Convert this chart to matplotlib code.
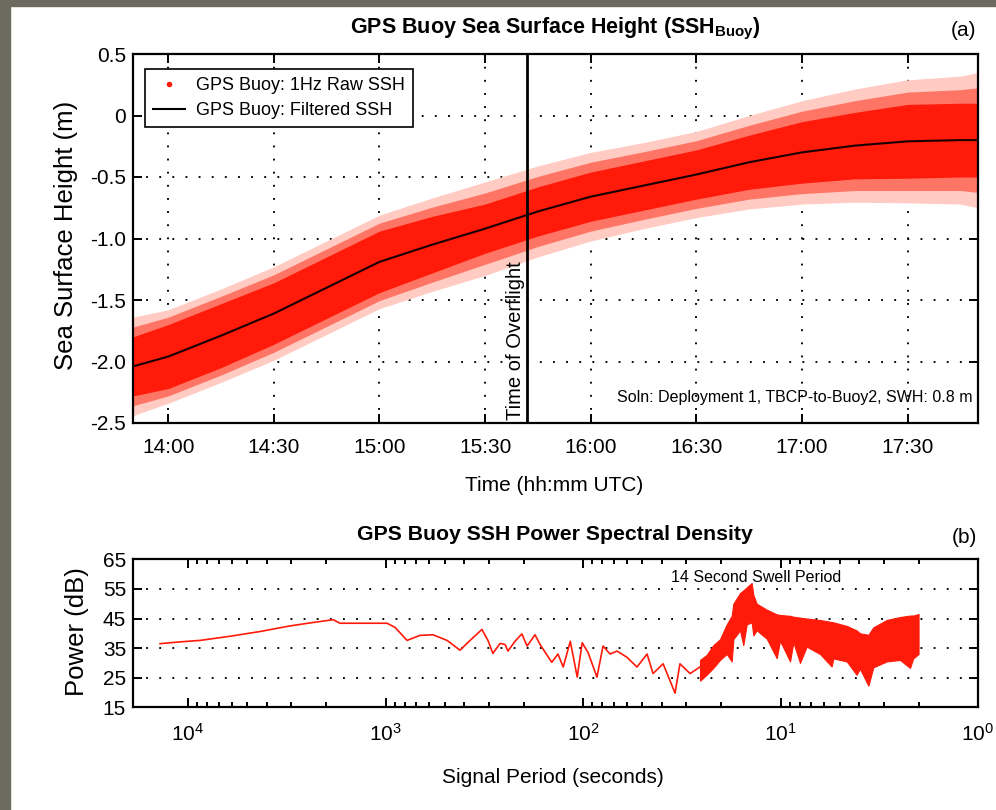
import matplotlib.pyplot as plt
import matplotlib.ticker as mticker
from matplotlib.lines import Line2D
from matplotlib.patches import Rectangle
import numpy as np

plt.rcParams['font.family'] = ['Liberation Sans', 'DejaVu Sans']
plt.rcParams['mathtext.fontset'] = 'custom'
plt.rcParams['mathtext.rm'] = 'Liberation Sans'
plt.rcParams['mathtext.it'] = 'Liberation Sans:italic'
plt.rcParams['mathtext.bf'] = 'Liberation Sans:bold'

# ---- (a) buoy sea surface height ----
clock = ["13:50", "14:00", "14:15", "14:30", "14:45", "15:00", "15:15",
         "15:30", "15:45", "16:00", "16:15", "16:30", "16:45", "17:00",
         "17:15", "17:30", "17:45", "17:50"]
ssh_filtered = [-2.04, -1.96, -1.79, -1.61, -1.40, -1.19, -1.05, -0.92, -0.78,
                -0.66, -0.57, -0.48, -0.38, -0.30, -0.245, -0.21, -0.20, -0.20]
# half width of the 1 Hz point cloud around the filtered curve (m)
raw_core = [0.24, 0.26, 0.26, 0.25, 0.25, 0.25, 0.23, 0.20, 0.20,
            0.20, 0.20, 0.20, 0.22, 0.25, 0.27, 0.30, 0.30, 0.30]
raw_outer = [0.40, 0.38, 0.38, 0.38, 0.38, 0.38, 0.38, 0.38, 0.37,
             0.36, 0.35, 0.35, 0.38, 0.42, 0.46, 0.50, 0.52, 0.55]
overflight = "15:42"
time_ticks = ["14:00", "14:30", "15:00", "15:30", "16:00", "16:30", "17:00", "17:30"]
ssh_ticks = [0.5, 0, -0.5, -1.0, -1.5, -2.0, -2.5]

# ---- (b) power spectral density ----
psd_period = [13860, 10980, 8696, 6130, 4320, 3045, 2412, 1844, 1700, 983,
              895, 778, 669, 575, 488, 420, 373, 325, 303, 286, 263, 248,
              240, 221, 204, 192, 175, 165, 144, 134, 126, 116, 107, 101,
              94.3, 85.0, 79.2, 73.0, 67.3, 59.9, 53.3, 47.4, 44.2, 39.3,
              34.2, 32.3, 28.7, 25.6]
psd_db = [36.5, 37.1, 37.6, 39.0, 40.6, 42.5, 43.5, 44.6, 43.4, 43.4,
          42.0, 37.6, 39.3, 39.5, 37.6, 34.3, 37.6, 41.3, 37.6, 33.2, 36.6, 36.2,
          34.0, 37.3, 39.8, 35.7, 39.5, 36.2, 30.2, 33.0, 28.6, 37.3, 25.2, 36.8,
          33.5, 25.2, 35.7, 33.0, 34.0, 31.9, 28.6, 33.0, 26.4, 29.7,
          19.8, 29.7, 26.4, 28.6]
# short periods: too noisy to trace, kept as the band the trace fills
swell_period = [25.56, 23.65, 21.89, 20.25, 18.73, 17.67, 17.33, 16.04, 15.43,
                14.84, 14.0, 13.73, 13.2, 11.75, 10.45, 10.06, 8.95, 8.61,
                7.97, 7.37, 6.31, 5.51, 5.40, 4.62, 4.12, 3.96, 3.59, 3.39,
                2.90, 2.48, 2.21, 2.13, 2.0]
swell_low = [24, 26, 28.3, 31, 33, 30.5, 38, 41, 36,
             43, 43.7, 39.3, 41, 38.2, 31.6, 37.5, 30.5, 37,
             30, 35.5, 33, 28.8, 31.5, 30.5, 26, 28, 22.3, 28.5,
             30.5, 31, 28.3, 31.5, 33]
swell_high = [31, 32.7, 36, 38, 43, 45.9, 50, 53.6, 54.5,
              55.5, 57, 53, 50, 48, 46.4, 46.2, 45.9, 45.6,
              45.3, 45, 44.5, 43.8, 43.7, 42.5, 41, 40, 39.5, 42,
              44.5, 45.5, 46, 46, 46.5]
psd_ticks = [15, 25, 35, 45, 55, 65]


def hours(s):
    h, m = s.split(":")
    return int(h) + int(m) / 60.0


RED = '#ff1a0a'
GRID = dict(color='black', linestyle=(0, (1, 6)), linewidth=1.35)


def matlab_box(ax):
    for s in ax.spines.values():
        s.set_linewidth(1.6)
    ax.tick_params(which='both', direction='in', top=True, right=True,
                   labelsize=15, width=1.4)
    ax.tick_params(which='major', length=6.5)
    ax.tick_params(which='minor', length=3.5)
    ax.set_axisbelow(True)


fig = plt.figure(figsize=(9.96, 8.10), dpi=100)
fig.add_artist(Rectangle((0, 0), 10 / 996, 1, transform=fig.transFigure,
                         color='#6b6b5f', zorder=-1))
fig.add_artist(Rectangle((0, 1 - 6 / 810), 1, 6 / 810, transform=fig.transFigure,
                         color='#6b6b5f', zorder=-1))

# ---------------- panel (a) ----------------
ax1 = fig.add_axes([133 / 996, 1 - 423 / 810, 845 / 996, 369 / 810])
t = np.array([hours(s) for s in clock])
mid = np.array(ssh_filtered)
core = np.array(raw_core)
outer = np.array(raw_outer)
between = (core + outer) / 2

ax1.fill_between(t, mid - outer, mid + outer, color='#ffcbc2', lw=0)
ax1.fill_between(t, mid - between, mid + between, color='#ff7565', lw=0)
ax1.fill_between(t, mid - core, mid + core, color=RED, lw=0)
ax1.plot(t, mid, color='#1a0000', lw=1.5)

t_over = hours(overflight)
ax1.axvline(t_over, color='black', lw=2.0)
ax1.annotate('Time of Overflight', xy=(t_over, -2.5), xytext=(-2, 2),
             textcoords='offset points', rotation=90, ha='right', va='bottom',
             fontsize=14.5)
ax1.text(0.993, 0.069, 'Soln: Deployment 1, TBCP-to-Buoy2, SWH: 0.8 m',
         transform=ax1.transAxes, ha='right', va='center', fontsize=11.5)

ax1.set_xlim(hours(clock[0]), hours(clock[-1]))
ax1.set_ylim(-2.5, 0.5)
ax1.set_xticks([hours(s) for s in time_ticks])
ax1.set_xticklabels(time_ticks)
ax1.set_yticks(ssh_ticks)
ax1.yaxis.set_major_formatter(mticker.FuncFormatter(
    lambda v, p: '0' if abs(v) < 1e-9 else '%.1f' % v))
matlab_box(ax1)
ax1.tick_params(axis='x', pad=11)
ax1.tick_params(axis='y', pad=5)
ax1.grid(True, **GRID)

ax1.set_xlabel('Time (hh:mm UTC)', fontsize=15)
ax1.xaxis.set_label_coords(0.498, -0.170)
ax1.xaxis.label.set_va('center')
ax1.set_ylabel('Sea Surface Height (m)', fontsize=18.5)
ax1.yaxis.set_label_coords(-0.079, 0.508)
ax1.yaxis.label.set_va('center')

handles = [Line2D([], [], linestyle='none', marker='.', color=RED, markersize=6),
           Line2D([], [], color='black', lw=1.5)]
leg = ax1.legend(handles, ['GPS Buoy: 1Hz Raw SSH', 'GPS Buoy: Filtered SSH'],
                 loc='upper left', bbox_to_anchor=(0.0142, 0.960), borderaxespad=0,
                 fontsize=13, fancybox=False, framealpha=1, edgecolor='black',
                 handlelength=1.75, handletextpad=0.6, labelspacing=0.45,
                 borderpad=0.45)
leg.get_frame().set_linewidth(1.2)

fig.text(555 / 996, 1 - 33.5 / 810, 'GPS Buoy Sea Surface Height (SSH$_{\\mathbf{Buoy}}$)',
         ha='center', va='baseline', fontsize=15.5, fontweight='bold')
fig.text(976 / 996, 1 - 36 / 810, '(a)', ha='right', va='baseline', fontsize=15)

# ---------------- panel (b) ----------------
ax2 = fig.add_axes([133 / 996, 1 - 707.3 / 810, 845 / 996, 148 / 810])
ax2.set_xscale('log')
ax2.plot(psd_period, psd_db, color=RED, lw=1.2)
ax2.fill_between(swell_period, swell_low, swell_high, color=RED, lw=0.8,
                 edgecolor=RED)
ax2.text(13.3, 59, '14 Second Swell Period', ha='center', va='center',
         fontsize=11.5)

ax2.set_xlim(19000, 1)
ax2.set_ylim(15, 65)
ax2.set_yticks(psd_ticks)
ax2.xaxis.set_major_locator(mticker.LogLocator(base=10))
ax2.xaxis.set_minor_locator(mticker.LogLocator(base=10, subs=range(2, 10)))
ax2.xaxis.set_minor_formatter(mticker.NullFormatter())
matlab_box(ax2)
ax2.tick_params(axis='x', pad=11)
ax2.tick_params(axis='y', pad=5)
ax2.grid(True, axis='y', **GRID)

ax2.set_xlabel('Signal Period (seconds)', fontsize=15)
ax2.xaxis.set_label_coords(0.497, -0.471)
ax2.xaxis.label.set_va('center')
ax2.set_ylabel('Power (dB)', fontsize=18.5)
ax2.yaxis.set_label_coords(-0.066, 0.51)
ax2.yaxis.label.set_va('center')

fig.text(555 / 996, 1 - 539.5 / 810, 'GPS Buoy SSH Power Spectral Density',
         ha='center', va='baseline', fontsize=15.3, fontweight='bold')
fig.text(977 / 996, 1 - 543 / 810, '(b)', ha='right', va='baseline', fontsize=15)

fig.savefig('out.png', dpi=100)
